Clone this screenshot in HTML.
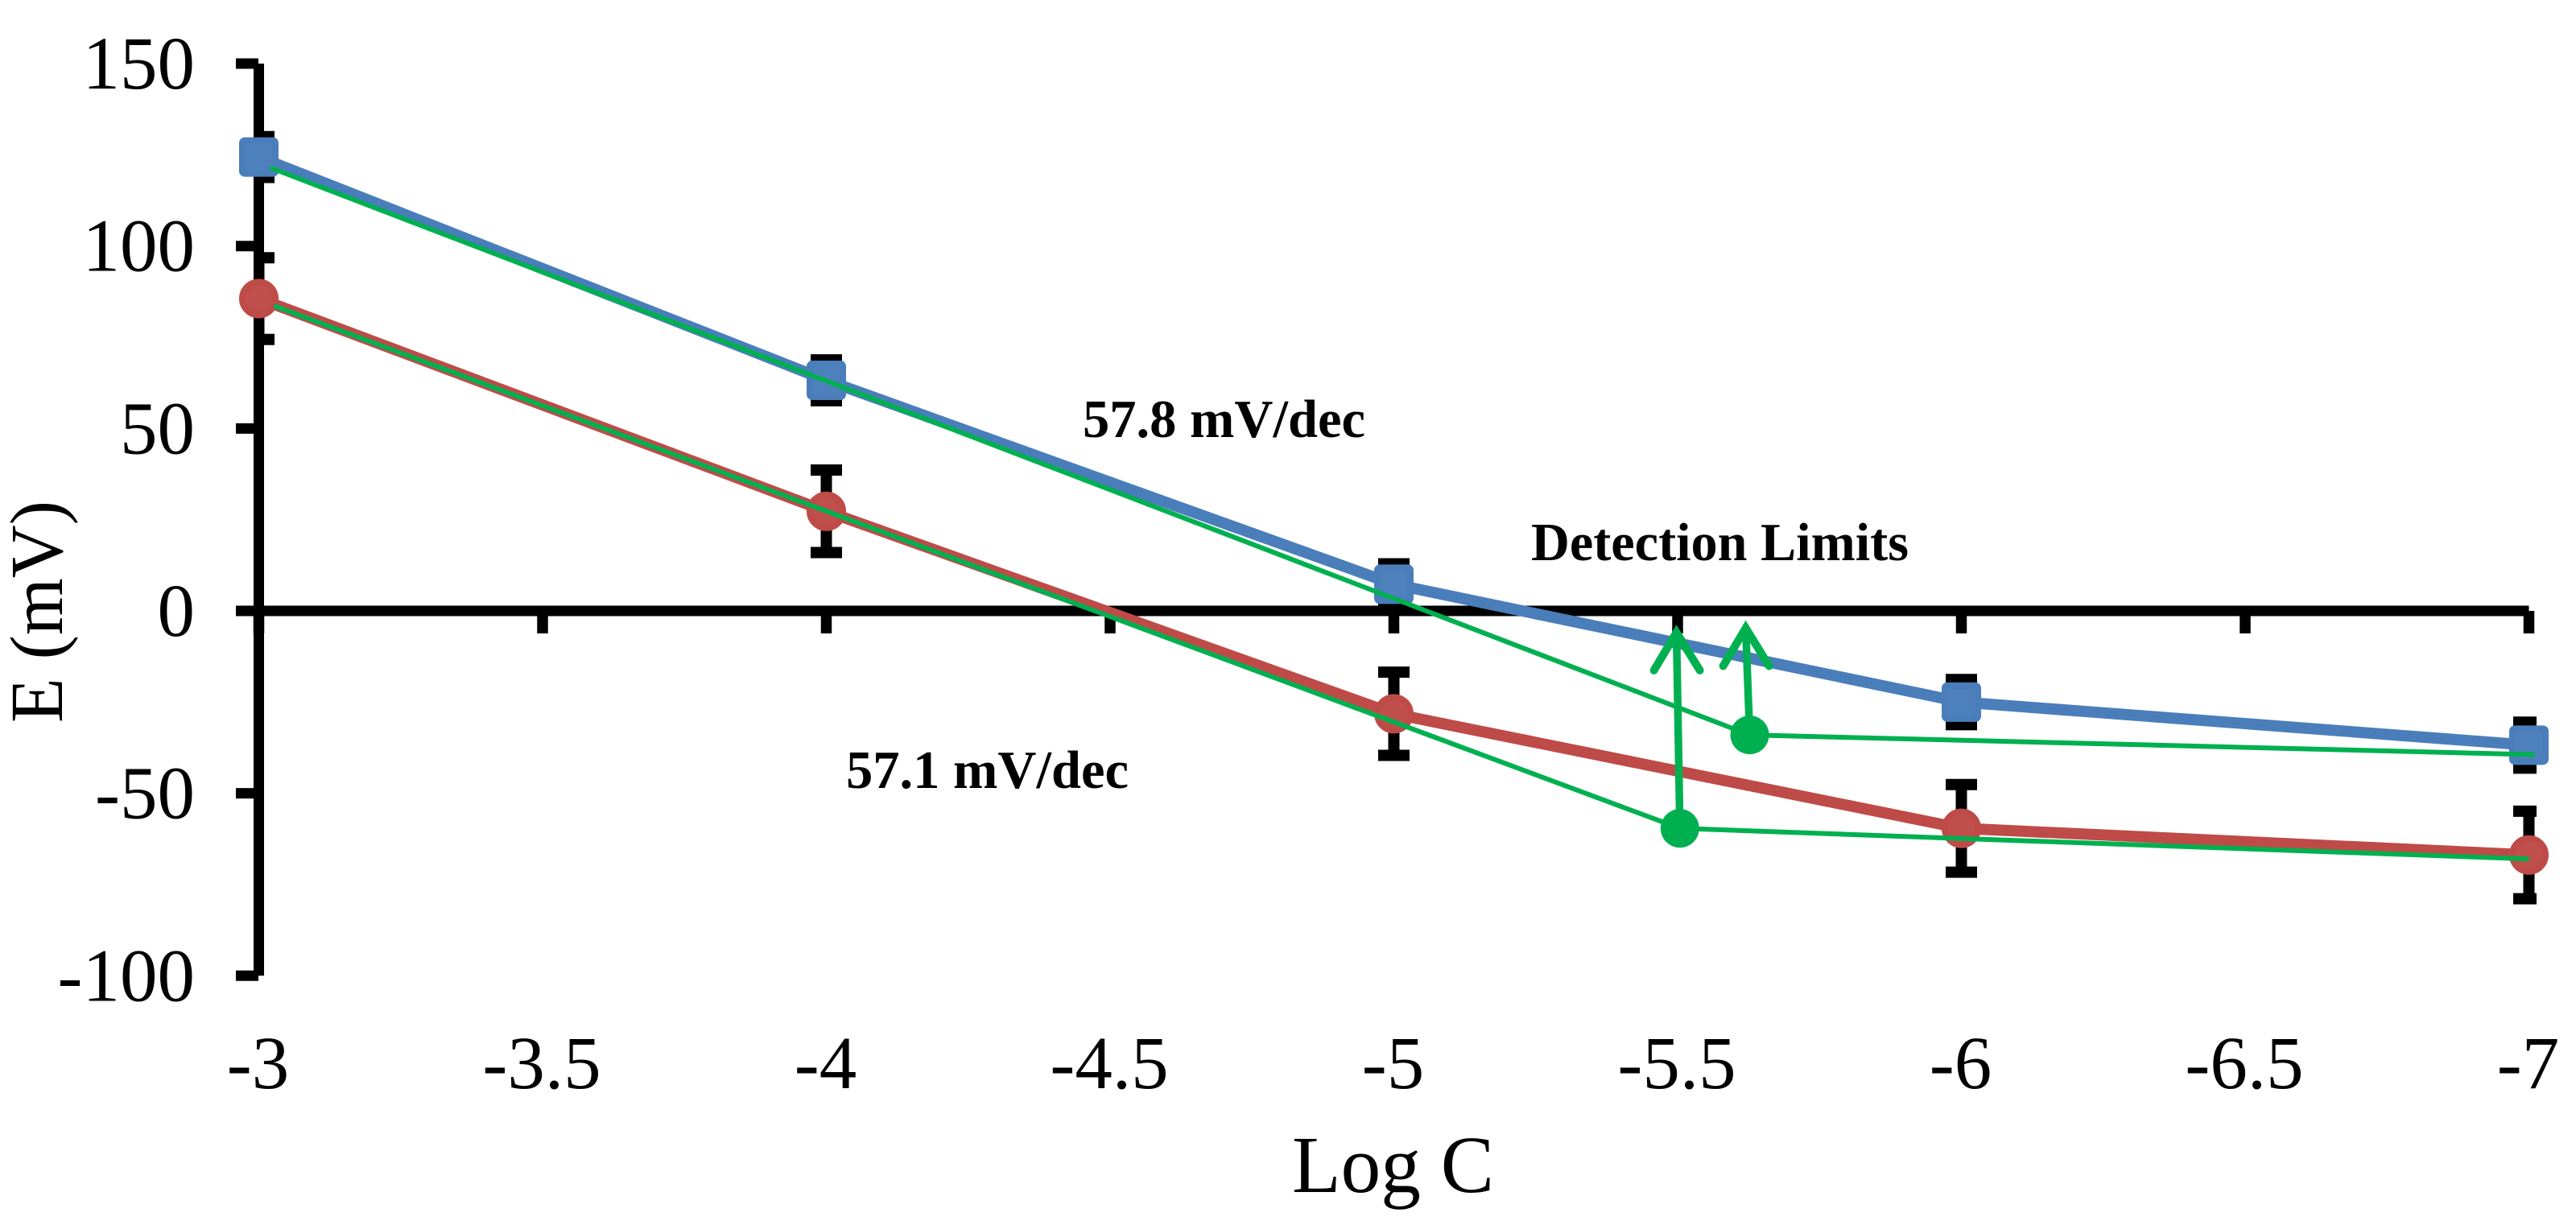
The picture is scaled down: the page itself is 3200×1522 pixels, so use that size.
<!DOCTYPE html>
<html lang="en">
<head>
<meta charset="utf-8">
<title>E (mV) vs Log C</title>
<style>
html,body{margin:0;padding:0;background:#fff;width:3200px;height:1522px;overflow:hidden}
svg{display:block;font-family:"Liberation Serif","Times New Roman",serif}
</style>
</head>
<body>
<svg id="chart" xmlns="http://www.w3.org/2000/svg" width="3200" height="1522" viewBox="0 0 3200 1522">
<defs>
<clipPath id="error-clip"><rect x="315" y="0" width="2836" height="1522"/></clipPath>
</defs>
<rect x="0" y="0" width="3200" height="1522" fill="#fff"/>
<g id="axes"></g>
<g id="errors" clip-path="url(#error-clip)"></g>
<g id="series"></g>
<g id="fits"></g>
<text transform="translate(77 898) rotate(-90)" font-size="93" textLength="276" lengthAdjust="spacingAndGlyphs">E (mV)</text>
<text x="1605" y="1481" font-size="101" textLength="251" lengthAdjust="spacingAndGlyphs">Log C</text>
<text x="1345" y="543" font-size="67" font-weight="bold" textLength="351" lengthAdjust="spacingAndGlyphs">57.8 mV/dec</text>
<text x="1051" y="979" font-size="67" font-weight="bold" textLength="351" lengthAdjust="spacingAndGlyphs">57.1 mV/dec</text>
<text x="1902" y="696" font-size="67" font-weight="bold" textLength="469" lengthAdjust="spacingAndGlyphs">Detection Limits</text>
</svg>
<script>
const xTicks = [-3, -3.5, -4, -4.5, -5, -5.5, -6, -6.5, -7];
const xTickLabels = ['-3', '-3.5', '-4', '-4.5', '-5', '-5.5', '-6', '-6.5', '-7'];
const yTicks = [150, 100, 50, 0, -50, -100];
const yTickLabels = ['150', '100', '50', '0', '-50', '-100'];
const logC = [-3, -4, -5, -6, -7];
const blueValues = [124.4, 63.2, 7.3, -25, -36.8];
const blueErrors = [5.6, 5.6, 5.6, 6.2, 6.3];
const redValues = [85.6, 27.3, -28.2, -59.6, -66.9];
const redErrors = [11.2, 11.3, 11.4, 12, 12];
const fitUpperX = [-3.02, -5.627, -7.01];
const fitUpperY = [121.5, -34, -39.4];
const fitLowerX = [-3.027, -5.504, -7];
const fitLowerY = [83.6, -59.6, -68];
const limitX = [-5.627, -5.504];
const limitY = [-34, -59.6];
const arrowTipX = [-5.62, -5.498];
const arrowTipY = [-2.3, -3.5];

const NS = 'http://www.w3.org/2000/svg';
const xScale = v => 321.5 + (-3 - v) * 705;
const yScale = v => 759 - v * 4.533;
const axes = document.getElementById('axes');
const errors = document.getElementById('errors');
const series = document.getElementById('series');
const fits = document.getElementById('fits');

function make(tag, parent, attrs) {
  const el = document.createElementNS(NS, tag);
  for (const k in attrs) el.setAttribute(k, attrs[k]);
  parent.appendChild(el);
  return el;
}
function pts(xs, ys) {
  return xs.map((x, i) => xScale(x) + ',' + yScale(ys[i])).join(' ');
}

/* axes */
const yAxisLine = make('line', axes, {x1: 321.5, x2: 321.5, y1: yScale(150), y2: yScale(-100), stroke: '#000', 'stroke-width': 13});


const xAxisLine = make('line', axes, {x1: 315, x2: xScale(-7), y1: yScale(0), y2: yScale(0), stroke: '#000', 'stroke-width': 13});



yTicks.forEach((v, i) => {
  const tick = make('line', axes, {x1: 293, x2: 321, y1: yScale(v), y2: yScale(v), stroke: '#000', 'stroke-width': 13});
  
  
  const label = make('text', axes, {x: 242, y: yScale(v) + 31, 'font-size': 93, 'text-anchor': 'end'});
  label.textContent = yTickLabels[i];
  
  
});
xTicks.forEach((v, i) => {
  const tick = make('line', axes, {x1: xScale(v), x2: xScale(v), y1: yScale(0), y2: 787, stroke: '#000', 'stroke-width': 13.5});
  
  
  const label = make('text', axes, {x: xScale(v) - 1, y: 1352, 'font-size': 93, 'text-anchor': 'middle'});
  label.textContent = xTickLabels[i];
  
  
});

/* error bars */
function drawErrors(values, errs, name) {
  logC.forEach((c, i) => {
    const x = xScale(c), top = yScale(values[i] + errs[i]), bot = yScale(values[i] - errs[i]);
    const bar = make('path', errors, {
      d: 'M' + x + ' ' + top + 'V' + bot + 'M' + (x - 19.5) + ' ' + top + 'H' + (x + 19.5) + 'M' + (x - 19.5) + ' ' + bot + 'H' + (x + 19.5),
      stroke: '#000', 'stroke-width': 14, fill: 'none'
    });
    
    
  });
}
drawErrors(blueValues, blueErrors, 'blue-error-bar');
drawErrors(redValues, redErrors, 'red-error-bar');

/* main series */
const blueLine = make('polyline', series, {points: pts(logC, blueValues), fill: 'none', stroke: '#4a7ebb', 'stroke-width': 14, 'stroke-linejoin': 'round'});


const redLine = make('polyline', series, {points: pts(logC, redValues), fill: 'none', stroke: '#be4b48', 'stroke-width': 14, 'stroke-linejoin': 'round'});



logC.forEach((c, i) => {
  const sq = make('rect', series, {x: xScale(c) - 20.5, y: yScale(blueValues[i]) - 20.5, width: 41, height: 41, rx: 3, fill: '#4f81bd', stroke: '#4a7ebb', 'stroke-width': 8});
  
  
});
logC.forEach((c, i) => {
  const dot = make('circle', series, {cx: xScale(c), cy: yScale(redValues[i]), r: 20.5, fill: '#c0504d', stroke: '#be4b48', 'stroke-width': 8});
  
  
});

/* fit lines */
const fitUpper = make('polyline', fits, {points: pts(fitUpperX, fitUpperY), fill: 'none', stroke: '#00b050', 'stroke-width': 6});


const fitLower = make('polyline', fits, {points: pts(fitLowerX, fitLowerY), fill: 'none', stroke: '#00b050', 'stroke-width': 6});



/* detection limit points and arrows */
limitX.forEach((x, i) => {
  const dot = make('circle', fits, {cx: xScale(x), cy: yScale(limitY[i]), r: 24, fill: '#00b050'});
  
  
  const tx = xScale(arrowTipX[i]), ty = yScale(arrowTipY[i]);
  const vy = ty + 11;
  const shaft = make('line', fits, {x1: xScale(x), y1: yScale(limitY[i]), x2: tx, y2: vy, stroke: '#00b050', 'stroke-width': 9.5});
  
  
  const head = make('polyline', fits, {
    points: (tx - 28) + ',' + (vy + 47) + ' ' + tx + ',' + vy + ' ' + (tx + 29) + ',' + (vy + 47),
    fill: 'none', stroke: '#00b050', 'stroke-width': 10, 'stroke-linecap': 'round', 'stroke-linejoin': 'miter', 'stroke-miterlimit': 8
  });
  
  
});
</script>
</body>
</html>
